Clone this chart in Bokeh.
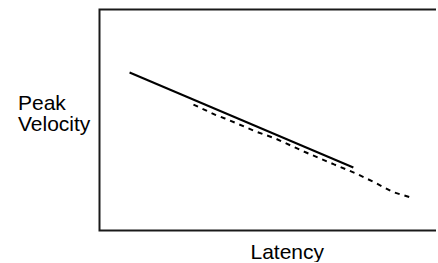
from bokeh.plotting import figure
from bokeh.models import Range1d
from bokeh.core.properties import value
from bokeh.embed import file_html
from bokeh.resources import INLINE

# Data (arbitrary units, 0-100 on each axis)
solid_x = [8.9, 75.1]
solid_y = [71.5, 28.5]

dashed_x = [27.8, 34.3, 37.1, 40.4, 46.2, 52.1, 57.8, 60.8, 69.4, 75.6, 81.2, 86.8, 92.6]
dashed_y = [57.0, 52.3, 50.7, 48.6, 44.8, 41.6, 37.6, 35.5, 29.9, 26.0, 21.9, 17.4, 14.7]

x_title = "Latency"
y_title_lines = ["Peak", "Velocity"]

# Axis extent of the plotting box (data units)
x_min, x_max = 0, 100
y_min, y_max = 0, 100

font = "Liberation Sans"

# Canvas layout (pixels) -> ranges so that the box sits where the axes are drawn
W, H = 436, 262
box_left_px, box_right_px = 99, 437
box_top_px, box_bottom_px = 9, 230
sx = (box_right_px - box_left_px) / (x_max - x_min)
sy = (box_bottom_px - box_top_px) / (y_max - y_min)
xr = Range1d(x_min - box_left_px / sx, x_min + (W - box_left_px) / sx)
yr = Range1d(y_min - (H - box_bottom_px) / sy, y_max + box_top_px / sy)

p = figure(width=W, height=H, output_backend="svg", toolbar_location=None,
           x_range=xr, y_range=yr, x_axis_location=None, y_axis_location=None,
           min_border=0)
p.outline_line_color = None
p.grid.visible = False

# axes frame: top, left and bottom lines (right edge lies beyond the view)
p.line([x_max + 10, x_min, x_min, x_max + 10], [y_max, y_max, y_min, y_min],
       line_color="#1a1a1a", line_width=2, line_join="miter")

p.line(solid_x, solid_y, line_color="black", line_width=2)
p.line(dashed_x, dashed_y, line_color="black", line_width=2, line_dash="5 5")

# axis titles
px = lambda v: x_min + (v - box_left_px) / sx
py = lambda v: y_min + (box_bottom_px - v) / sy
p.text(x=[px(17.5), px(17.5)], y=[py(102), py(123)], text=y_title_lines,
       text_font=value(font), text_font_size="21px", text_color="black",
       text_align="left", text_baseline="alphabetic")
p.text(x=[px(250)], y=[py(251)], text=[x_title],
       text_font=value(font), text_font_size="21px", text_color="black",
       text_align="left", text_baseline="alphabetic")

open("out.html", "w").write(file_html(p, INLINE))
